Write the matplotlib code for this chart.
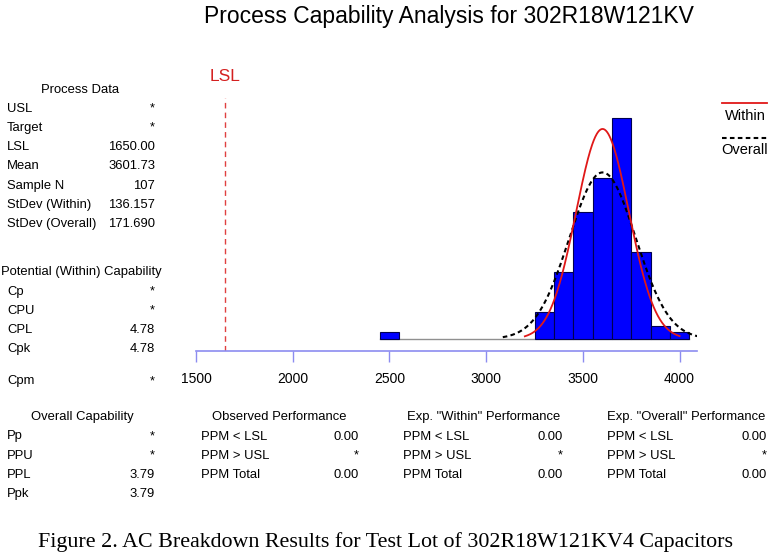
import numpy as np
import matplotlib.pyplot as plt

plt.rcParams['font.family'] = ['Liberation Sans', 'DejaVu Sans']

# data
bin_left = [2450, 3250, 3350, 3450, 3550, 3650, 3750, 3850, 3950]
counts = [1, 4, 10, 19, 24, 33, 13, 2, 1]
bin_w = 100
lsl = 1650.0
mean = 3601.73
n_obs = 107
sd_within = 136.157
sd_overall = 171.690
within_range = (3200, 4000)
overall_range = (3086, 4092)
xticks = [1500, 2000, 2500, 3000, 3500, 4000]

process_rows = [("USL", "*"), ("Target", "*"), ("LSL", "1650.00"), ("Mean", "3601.73"),
                ("Sample N", "107"), ("StDev (Within)", "136.157"), ("StDev (Overall)", "171.690")]
potential_rows = [("Cp", "*"), ("CPU", "*"), ("CPL", "4.78"), ("Cpk", "4.78")]
overall_rows = [("Pp", "*"), ("PPU", "*"), ("PPL", "3.79"), ("Ppk", "3.79")]
ppm_labels = ["PPM < LSL", "PPM > USL", "PPM Total"]
observed = ["0.00", "*", "0.00"]
exp_within = ["0.00", "*", "0.00"]
exp_overall = ["0.00", "*", "0.00"]

W, H = 770, 556
fig = plt.figure(figsize=(W / 100, H / 100), dpi=100)

def px(x, y):
    return x / W, 1 - y / H

# histogram axes: spine at y=351px, count 0 at 339px
ax = fig.add_axes([196 / W, (H - 351) / H, 501 / W, 261 / H])
scale = 6.7
ylo = -12 / scale
ax.set_xlim(1500, 4090)
ax.set_ylim(ylo, ylo + 261 / scale)

ax.plot([2450, 4050], [0, 0], color='#909090', lw=1, zorder=1)
ax.bar(bin_left, counts, width=bin_w, align='edge', color='#0000ff',
       edgecolor='#000050', linewidth=0.8, zorder=2)

def normal(x, sd):
    return n_obs * bin_w * np.exp(-0.5 * ((x - mean) / sd) ** 2) / (sd * np.sqrt(2 * np.pi))

xw = np.linspace(*within_range, 300)
ax.plot(xw, normal(xw, sd_within), color='#e01818', lw=1.3, zorder=4)
xo = np.linspace(*overall_range, 300)
ax.plot(xo, normal(xo, sd_overall), color='black', lw=1.5, ls=(0, (2.2, 1.6)), zorder=3)

ax.plot([lsl, lsl], [ylo, ylo + 253 / scale], color='#e04040', lw=1, ls=(0, (4, 3)))
ax.text(lsl, ylo + 274 / scale, "LSL", color='#d42020', fontsize=12.5, ha='center', va='center',
        clip_on=False)

for s in ['top', 'left', 'right']:
    ax.spines[s].set_visible(False)
ax.spines['bottom'].set_color('#8c8cf0')
ax.spines['bottom'].set_linewidth(1.2)
ax.set_yticks([])
ax.set_xticks(xticks)
ax.tick_params(axis='x', colors='#8c8cf0', length=8, width=1, labelcolor='black',
               labelsize=10, pad=7)

fig.text(*px(449, 17), "Process Capability Analysis for 302R18W121KV", fontsize=16.5,
         ha='center', va='center')

# legend
fig.add_artist(plt.Line2D([722 / W, 767 / W], [1 - 103 / H] * 2, color='#e01818', lw=1.3))
fig.text(*px(745, 116), "Within", fontsize=10.5, ha='center', va='center')
fig.add_artist(plt.Line2D([722 / W, 767 / W], [1 - 138 / H] * 2, color='black', lw=1.5,
                          ls=(0, (2.2, 1.6))))
fig.text(*px(745, 150), "Overall", fontsize=10.5, ha='center', va='center')

fs = 9.4
def block(title, tx, ty, rows, xl, xr, y0, dy=19.3):
    fig.text(*px(tx, ty), title, fontsize=fs, ha='center', va='center')
    for i, (lab, val) in enumerate(rows):
        y = y0 + i * dy
        fig.text(*px(xl, y), lab, fontsize=fs, ha='left', va='center')
        fig.text(*px(xr, y), val, fontsize=fs, ha='right', va='center')

block("Process Data", 80, 90, process_rows, 7, 155, 108.5)
block("Potential (Within) Capability", 81, 272, potential_rows, 7, 155, 291.5)
fig.text(*px(7, 381), "Cpm", fontsize=fs, ha='left', va='center')
fig.text(*px(155, 381), "*", fontsize=fs, ha='right', va='center')

block("Overall Capability", 82, 417, overall_rows, 7, 155, 436.5)
block("Observed Performance", 279, 417, list(zip(ppm_labels, observed)), 201, 359, 436.5)
block('Exp. "Within" Performance', 484, 417, list(zip(ppm_labels, exp_within)), 403, 563, 436.5)
block('Exp. "Overall" Performance', 686, 417, list(zip(ppm_labels, exp_overall)), 607, 767, 436.5)

fig.text(*px(385, 542), "Figure 2. AC Breakdown Results for Test Lot of 302R18W121KV4 Capacitors",
         fontsize=15.8, ha='center', va='center', family=['Liberation Serif', 'DejaVu Serif'])

fig.savefig("out.png", dpi=100)
